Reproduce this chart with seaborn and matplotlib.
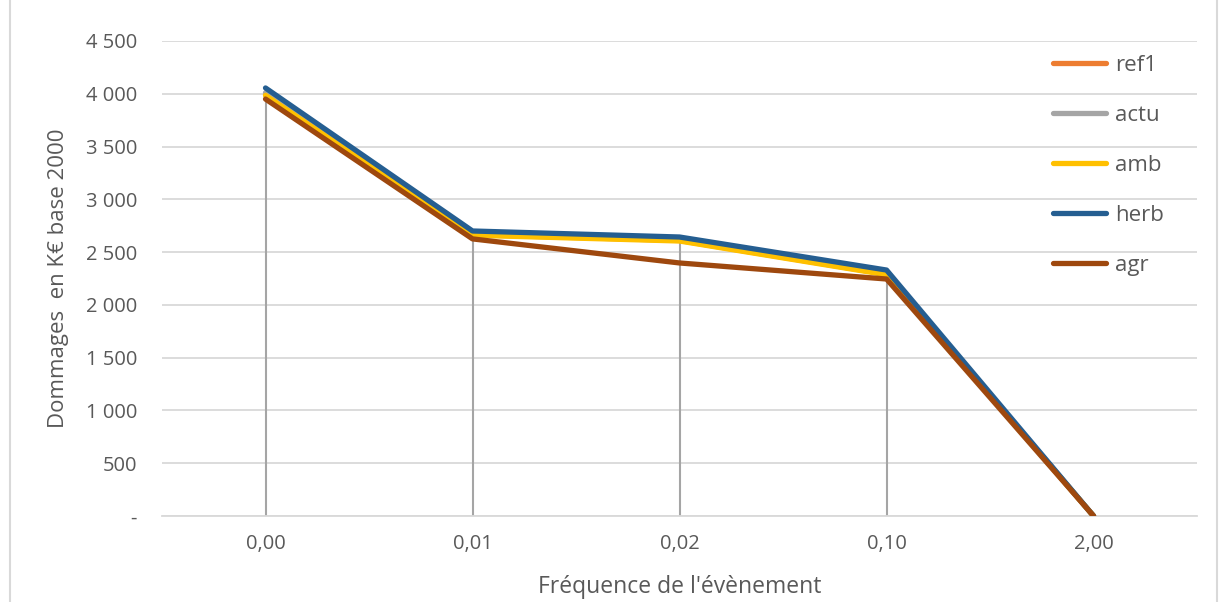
import pandas as pd
import numpy as np
import matplotlib.pyplot as plt
import seaborn as sns
from matplotlib.ticker import FuncFormatter
from matplotlib.patches import Rectangle

# data
frequences = ['0,00', '0,01', '0,02', '0,10', '2,00']
ref1 = [3990, 2665, 2610, 2290, 0]
actu = [4010, 2670, 2615, 2295, 0]
amb = [3985, 2660, 2605, 2285, 0]
herb = [4055, 2700, 2643, 2330, 0]
agr = [3950, 2625, 2397, 2245, 0]

series = {'ref1': ref1, 'actu': actu, 'amb': amb, 'herb': herb, 'agr': agr}
colors = {'ref1': '#ED7D31', 'actu': '#A5A5A5', 'amb': '#FFC000',
          'herb': '#255E91', 'agr': '#9E480E'}

rows = []
for name, vals in series.items():
    for i, v in enumerate(vals):
        rows.append({'pos': i, 'freq': frequences[i], 'serie': name, 'val': v})
df = pd.DataFrame(rows)

sns.set_style('white')
plt.rcParams['font.family'] = ['Open Sans', 'DejaVu Sans']
txt = '#595959'

fig = plt.figure(figsize=(12.19, 6.02), dpi=100)
ax = fig.add_axes([0.1329, 0.1429, 0.8491, 0.789])

# drop lines from the highest series down to the axis
tops = df.groupby('pos')['val'].max()
ax.vlines(tops.index, 0, tops.values, color='#A5A5A5', lw=1.5, zorder=2)

sns.lineplot(data=df, x='pos', y='val', hue='serie', palette=colors,
             hue_order=list(series.keys()), sort=False, lw=3.8, ax=ax,
             zorder=3, solid_capstyle='round', solid_joinstyle='round')

ax.set_xlim(-0.5, len(frequences) - 0.5)
ax.set_ylim(0, 4500)
ax.set_yticks(np.arange(0, 4501, 500))
ax.yaxis.set_major_formatter(FuncFormatter(
    lambda v, p: '-' if v == 0 else f'{int(v):,}'.replace(',', ' ')))
ax.set_xticks(range(len(frequences)))
ax.set_xticklabels(frequences)
ax.grid(axis='y', color='#D9D9D9', lw=1.3)
ax.set_axisbelow(True)
for s in ['top', 'right', 'left']:
    ax.spines[s].set_visible(False)
ax.spines['bottom'].set_color('#D9D9D9')
ax.spines['bottom'].set_linewidth(1.3)
ax.tick_params(axis='both', length=0, labelsize=14.5, colors=txt)
ax.tick_params(axis='y', pad=18)
ax.tick_params(axis='x', pad=13)

ax.set_xlabel("Fréquence de l'évènement", fontsize=16.5, color=txt, labelpad=15)
ax.set_ylabel('Dommages  en K€ base 2000', fontsize=16, color=txt, labelpad=12)

leg = ax.legend(loc='upper left', bbox_to_anchor=(0.8415, 1.013), frameon=False,
                fontsize=16, labelspacing=1.31, handlelength=2.4,
                handletextpad=0.4)
for t in leg.get_texts():
    t.set_color(txt)
for h in leg.get_lines():
    h.set_linewidth(3.8)

fig.patches.append(Rectangle((0.008, -0.01), 0.99, 1.05, transform=fig.transFigure,
                             fill=False, edgecolor='#D9D9D9', lw=1.5))

fig.savefig('out.png', dpi=100)
